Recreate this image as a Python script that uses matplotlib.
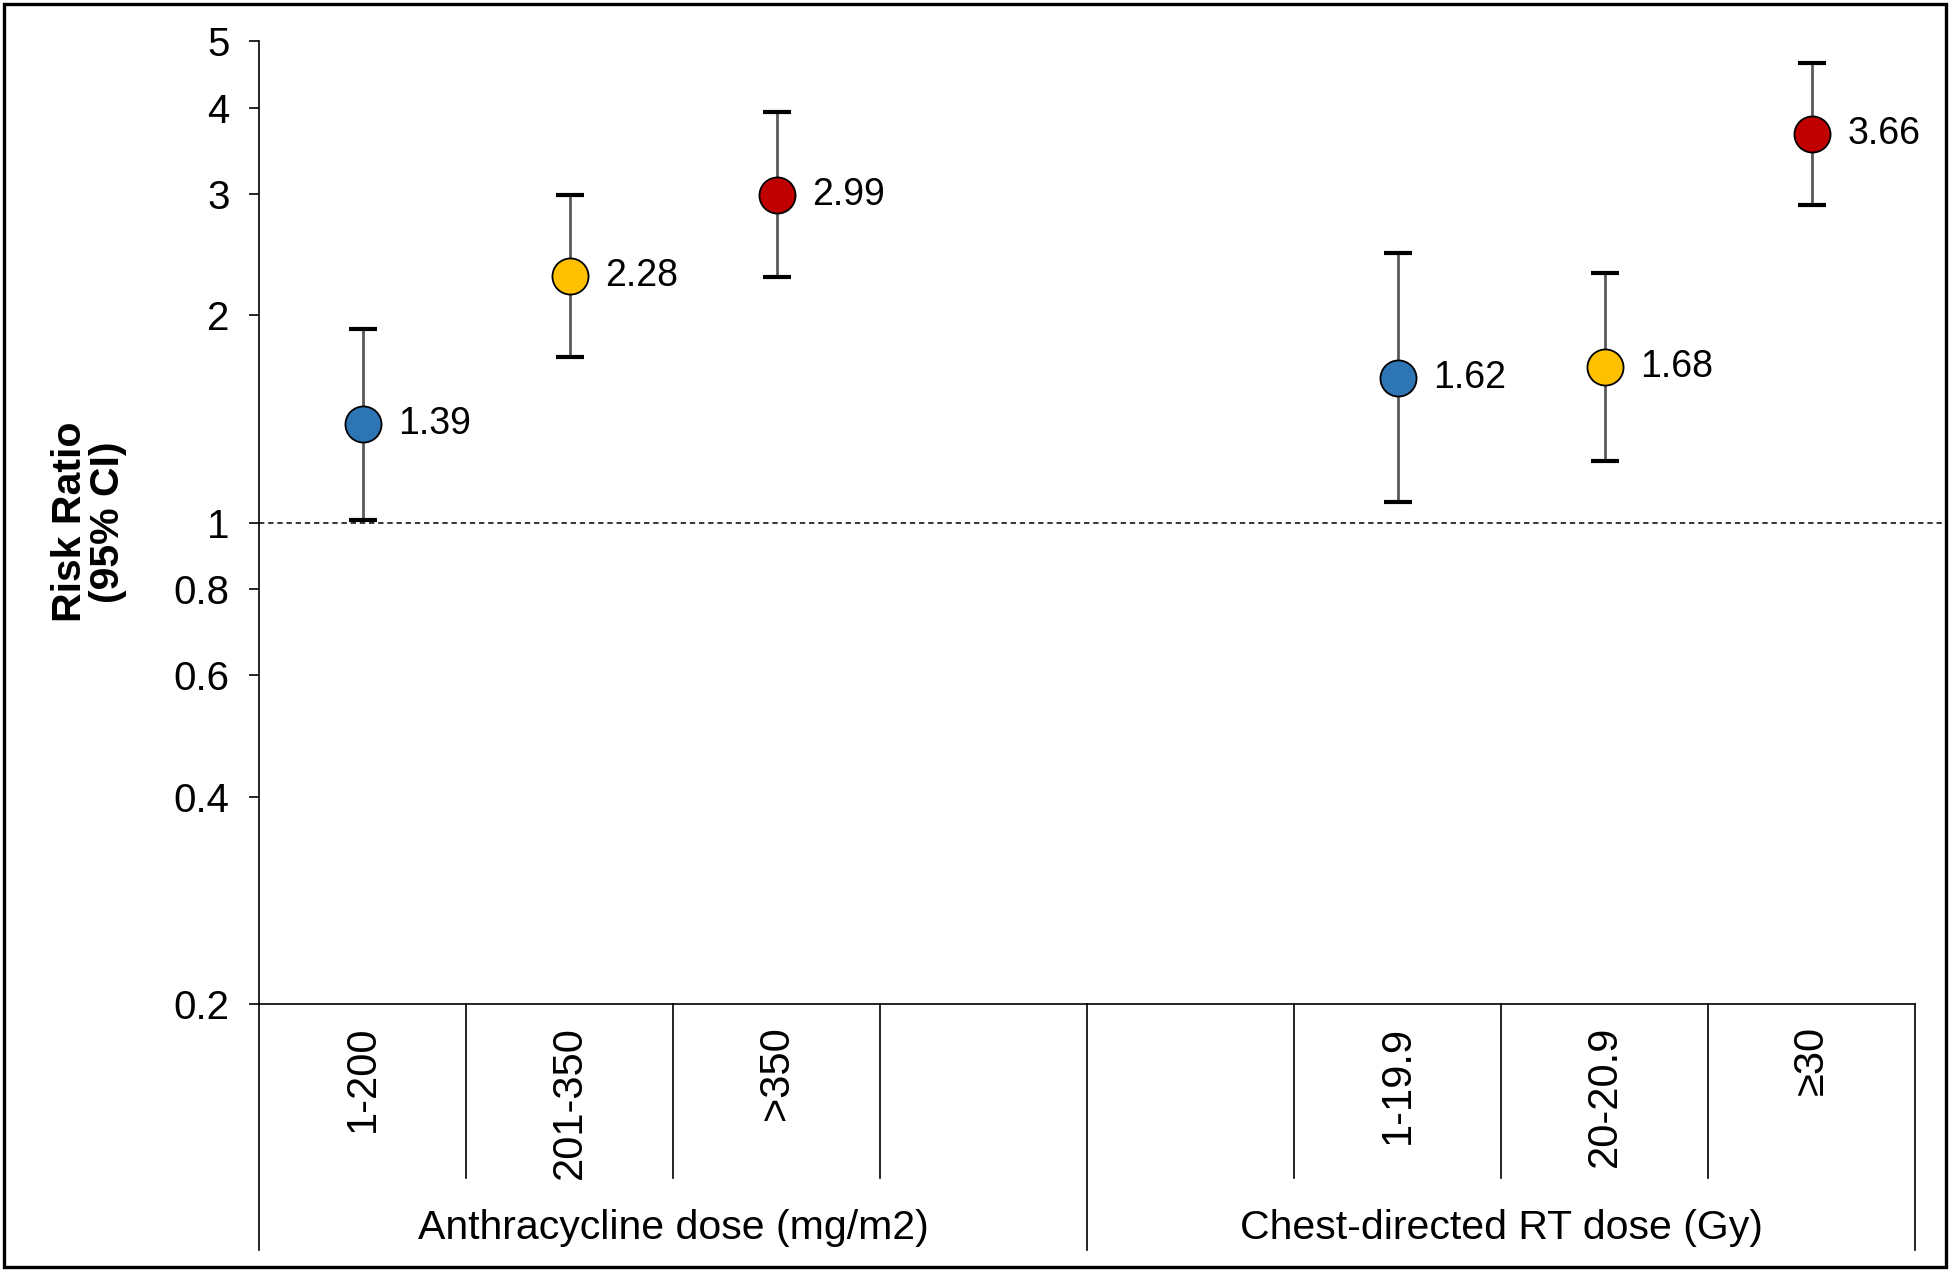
"""Risk ratio (95% CI) by anthracycline and chest RT dose, log scale."""

import matplotlib
matplotlib.use("Agg")
import matplotlib.pyplot as plt
from matplotlib.patches import Rectangle
from matplotlib.ticker import FixedLocator, NullLocator

plt.rcParams['font.family'] = ['Liberation Sans', 'DejaVu Sans']

# dados
categories = ['1-200', '201-350', '>350', '', '', '1-19.9', '20-20.9', '≥30']
point_cats = ['1-200', '201-350', '>350', '1-19.9', '20-20.9', '≥30']
rr = [1.39, 2.28, 2.99, 1.62, 1.68, 3.66]
ci_low = [1.01, 1.74, 2.27, 1.07, 1.23, 2.89]
ci_high = [1.91, 2.99, 3.95, 2.46, 2.30, 4.64]
point_colors = ['#2E75B6', '#FFC000', '#C00000', '#2E75B6', '#FFC000', '#C00000']
group_names = ['Anthracycline dose (mg/m2)', 'Chest-directed RT dose (Gy)']
group_spans = [(0, 4), (4, 8)]
y_ticks = [0.2, 0.4, 0.6, 0.8, 1, 2, 3, 4, 5]
y_ticklabels = ['0.2', '0.4', '0.6', '0.8', '1', '2', '3', '4', '5']

W, H = 1950, 1273
fig = plt.figure(figsize=(W / 100, H / 100), dpi=100)

# eixo principal (em pixels da figura)
ax_left, ax_right, ax_top, ax_bottom = 259, 1915, 41, 1004
ax = fig.add_axes([ax_left / W, 1 - ax_bottom / H,
                   (ax_right - ax_left) / W, (ax_bottom - ax_top) / H])
ax.set_yscale('log')
ax.set_ylim(0.2, 5)
ax.set_xlim(0, len(categories))
ax.yaxis.set_major_locator(FixedLocator(y_ticks))
ax.yaxis.set_minor_locator(NullLocator())
ax.set_yticklabels(y_ticklabels)
ax.tick_params(axis='y', which='major', length=7.2, width=1.2, pad=14,
               labelsize=29, color='black')
ax.set_xticks([])
for s in ['top', 'right']:
    ax.spines[s].set_visible(False)
ax.spines['left'].set_linewidth(1.2)
ax.spines['bottom'].set_linewidth(1.2)

# linha de referência em 1
h_px = ax_bottom - ax_top
ax.axhline(1, xmin=0, xmax=(1944 - ax_left) / (ax_right - ax_left),
           color='black', lw=1.1, ls=(0, (3.5, 2.5)), clip_on=False, zorder=1)

# pontos e intervalos
xs = [categories.index(c) + 0.5 for c in point_cats]
for x, v, lo, hi, col in zip(xs, rr, ci_low, ci_high, point_colors):
    eb = ax.errorbar([x], [v], yerr=[[v - lo], [hi - v]], fmt='none',
                     ecolor='#595959', elinewidth=2.0, capsize=10,
                     capthick=3.0, zorder=2)
    for cap in eb[1]:
        cap.set_markeredgecolor('black')
    ax.plot([x], [v], 'o', ms=26, mfc=col, mec='black', mew=1.3, zorder=3)
    ax.annotate(f'{v:.2f}', (x, v), xytext=(26, 0), textcoords='offset points',
                ha='left', va='center', fontsize=27)

# eixo categórico abaixo
trans = ax.get_xaxis_transform()
inner_bottom = -(1178 - ax_bottom) / h_px
group_bottom = -(1250 - ax_bottom) / h_px
label_top = -(1026 - ax_bottom) / h_px
group_label_y = -(1228 - ax_bottom) / h_px

group_edges = sorted(set([e for span in group_spans for e in span]))
for i in range(len(categories) + 1):
    y_end = group_bottom if i in group_edges else inner_bottom
    ax.plot([i, i], [0, y_end], color='black', lw=1.2, transform=trans,
            clip_on=False)
for i, c in enumerate(categories):
    if c:
        ax.text(i + 0.5, label_top, c, transform=trans, rotation=90,
                ha='center', va='top', fontsize=30)
for name, (a, b) in zip(group_names, group_spans):
    ax.text((a + b) / 2, group_label_y, name, transform=trans,
            ha='center', va='center', fontsize=29.5)

# rótulo do eixo y
fig.text(89 / W, 1 - 522 / H, 'Risk Ratio\n(95% CI)', rotation=90,
         ha='center', va='center', multialignment='center',
         fontsize=29.5, fontweight='bold', linespacing=1.0)

# moldura externa
fig.patches.append(Rectangle((4 / W, 1 - 1267 / H), (1946 - 4) / W,
                             (1267 - 4) / H, transform=fig.transFigure,
                             fill=False, edgecolor='black', lw=2.4))

fig.savefig('out.png', dpi=100)
